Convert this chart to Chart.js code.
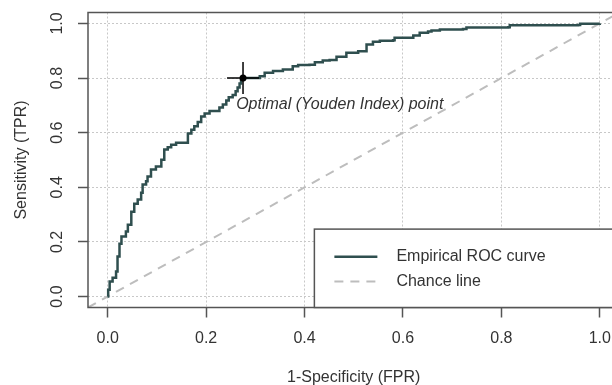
<!DOCTYPE html>
<html lang="en">
<head>
<meta charset="UTF-8">
<title>ROC curve</title>
<script src="https://cdn.jsdelivr.net/npm/chart.js"></script>
<style>
    html, body { margin: 0; padding: 0; overflow: hidden; background: #fff; }
    #wrap { width: 630px; height: 385px; }
</style>
</head>
<body>
<div id="wrap"><canvas id="roc" width="630" height="385"></canvas></div>
<script>
    // empirical ROC curve
    const fpr = [0, 0.001, 0.004, 0.010, 0.017, 0.020, 0.024, 0.028, 0.037, 0.041,
        0.048, 0.054, 0.061, 0.068, 0.071, 0.078, 0.081, 0.088, 0.098, 0.109,
        0.115, 0.122, 0.129, 0.139, 0.156, 0.163, 0.170, 0.176, 0.183, 0.190,
        0.197, 0.207, 0.227, 0.234, 0.241, 0.246, 0.254, 0.260, 0.264, 0.268,
        0.271, 0.275, 0.302, 0.309, 0.319, 0.336, 0.356, 0.376, 0.387, 0.410,
        0.421, 0.437, 0.451, 0.465, 0.485, 0.509, 0.526, 0.539, 0.553, 0.580,
        0.583, 0.614, 0.621, 0.634, 0.651, 0.658, 0.675, 0.722, 0.729, 0.814,
        0.817, 0.956, 0.960, 1.0];
    const tpr = [0, 0.025, 0.055, 0.069, 0.092, 0.147, 0.193, 0.220, 0.238, 0.263,
        0.311, 0.340, 0.355, 0.380, 0.410, 0.422, 0.440, 0.465, 0.476, 0.501,
        0.538, 0.547, 0.556, 0.563, 0.563, 0.597, 0.611, 0.624, 0.639, 0.659,
        0.670, 0.679, 0.692, 0.703, 0.718, 0.730, 0.738, 0.752, 0.765, 0.780,
        0.793, 0.800, 0.800, 0.807, 0.819, 0.826, 0.831, 0.843, 0.848, 0.849,
        0.858, 0.864, 0.866, 0.878, 0.893, 0.898, 0.923, 0.933, 0.937, 0.938,
        0.948, 0.948, 0.956, 0.966, 0.970, 0.974, 0.978, 0.980, 0.985, 0.986,
        0.993, 0.994, 0.999, 1.0];

    // chance line y = x, across the whole plot
    const chanceX = [-0.04, 1.04];
    const chanceY = [-0.04, 1.04];

    // optimal (Youden) point
    const optX = [0.275];
    const optY = [0.8];

    const xTicks = [0, 0.2, 0.4, 0.6, 0.8, 1.0];
    const yTicks = [0, 0.2, 0.4, 0.6, 0.8, 1.0];
    const legendLabels = ["Empirical ROC curve", "Chance line"];
    const pointLabel = "Optimal (Youden Index) point";

    const FAMILY = '"Liberation Sans", Arial, sans-serif';
    const ROC_COL = '#2f4f4f';
    const CHANCE_COL = '#bdbdbd';
    const INK = '#333';

    Chart.defaults.font.family = FAMILY;

    function pts(xs, ys) {
        return xs.map((v, i) => ({x: v, y: ys[i]}));
    }

    // box, point label and legend (R style)
    const extras = {
        id: 'extras',
        afterDatasetsDraw(chart) {
            const ctx = chart.ctx;
            const a = chart.chartArea;
            const x = chart.scales.x, y = chart.scales.y;
            ctx.save();

            ctx.font = 'italic 16px ' + FAMILY;
            ctx.fillStyle = INK;
            ctx.textBaseline = 'middle';
            ctx.textAlign = 'left';
            ctx.fillText(pointLabel, x.getPixelForValue(0.261), y.getPixelForValue(0.703));

            ctx.strokeStyle = '#555';
            ctx.lineWidth = 1.5;
            ctx.strokeRect(a.left, a.top, a.right - a.left, a.bottom - a.top);

            // legend, bottom right
            let lx = x.getPixelForValue(0.42), ly = y.getPixelForValue(0.247);
            ctx.fillStyle = '#fff';
            ctx.fillRect(lx, ly, a.right - lx, a.bottom - ly);
            ctx.strokeRect(lx, ly, a.right - lx, a.bottom - ly);

            let rows = [ly + 27.7, ly + 52.4];
            ctx.lineWidth = 2.5;
            ctx.strokeStyle = ROC_COL;
            ctx.beginPath();
            ctx.moveTo(lx + 20, rows[0]); ctx.lineTo(lx + 63, rows[0]);
            ctx.stroke();
            ctx.lineWidth = 2;
            ctx.strokeStyle = CHANCE_COL;
            ctx.setLineDash([9, 7]);
            ctx.beginPath();
            ctx.moveTo(lx + 20, rows[1]); ctx.lineTo(lx + 63, rows[1]);
            ctx.stroke();
            ctx.setLineDash([]);

            ctx.font = '16px ' + FAMILY;
            ctx.fillStyle = INK;
            ctx.fillText(legendLabels[0], lx + 82, rows[0]);
            ctx.fillText(legendLabels[1], lx + 82, rows[1]);
            ctx.restore();
        }
    };

    const gridOpts = {
        color: '#c8c8c8',
        lineWidth: 1,
        tickLength: 10,
        tickColor: '#555',
        tickWidth: 1.5
    };

    new Chart(document.getElementById('roc'), {
        type: 'scatter',
        data: {
            datasets: [
                {
                    data: pts(optX, optY),
                    pointStyle: 'circle',
                    pointRadius: 3.5,
                    backgroundColor: '#000',
                    borderColor: '#000',
                    borderWidth: 0
                },
                {
                    data: pts(optX, optY),
                    pointStyle: 'cross',
                    pointRadius: 16,
                    borderColor: '#000',
                    borderWidth: 1.5
                },
                {
                    data: pts(fpr, tpr),
                    showLine: true,
                    stepped: true,
                    borderColor: ROC_COL,
                    borderWidth: 2.5,
                    pointRadius: 0
                },
                {
                    data: pts(chanceX, chanceY),
                    showLine: true,
                    borderColor: CHANCE_COL,
                    borderWidth: 2,
                    borderDash: [9, 7],
                    pointRadius: 0
                }
            ]
        },
        options: {
            responsive: false,
            animation: false,
            events: [],
            layout: { autoPadding: false, padding: { left: 0, top: 12.5, right: 10.5, bottom: 0 } },
            plugins: {
                legend: { display: false },
                tooltip: { enabled: false }
            },
            scales: {
                x: {
                    type: 'linear',
                    min: -0.04,
                    max: 1.04,
                    afterBuildTicks: s => { s.ticks = xTicks.map(v => ({value: v})); },
                    afterFit: s => { s.height = 77.5; s.paddingLeft = 0; s.paddingRight = 0; },
                    ticks: {
                        callback: v => v.toFixed(1),
                        font: { size: 16 },
                        color: INK,
                        padding: 11,
                        maxRotation: 0
                    },
                    grid: gridOpts,
                    border: { display: false, dash: [2, 2] },
                    title: {
                        display: true,
                        text: '1-Specificity (FPR)',
                        font: { size: 16 },
                        color: INK,
                        padding: { top: 0, bottom: -2 }
                    }
                },
                y: {
                    type: 'linear',
                    min: -0.04,
                    max: 1.04,
                    afterBuildTicks: s => { s.ticks = yTicks.map(v => ({value: v})); },
                    afterFit: s => { s.width = 88; s.paddingTop = 0; s.paddingBottom = 0; },
                    ticks: {
                        callback: v => v.toFixed(1),
                        font: { size: 16 },
                        color: INK,
                        padding: 9.4,
                        minRotation: 90,
                        maxRotation: 90,
                        crossAlign: 'center'
                    },
                    grid: gridOpts,
                    border: { display: false, dash: [2, 2] },
                    title: {
                        display: true,
                        text: 'Sensitivity (TPR)',
                        font: { size: 16 },
                        color: INK,
                        padding: { top: 12.4, bottom: 0 }
                    }
                }
            }
        },
        plugins: [extras]
    });
</script>
</body>
</html>
